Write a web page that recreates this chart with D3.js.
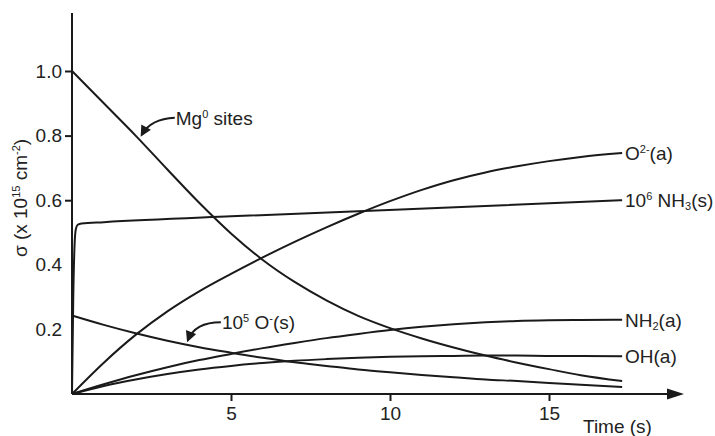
<!DOCTYPE html>
<html>
<head>
<meta charset="utf-8">
<script src="https://cdn.jsdelivr.net/npm/d3@7"></script>
<style>
body { margin: 0; background: #fff; }
text { font-family: "Liberation Sans", Arial, Helvetica, sans-serif; fill: #222; }
</style>
</head>
<body>
<div id="chart"></div>
<script>
//Width and height
var w = 715;
var h = 436;

//Time points (s) and values
var times = [0, 1, 2, 3, 4, 5, 6, 7, 8, 9, 10, 11, 12, 13, 14, 15, 16, 17.3];
var mgSites = [1.0, 0.90, 0.80, 0.695, 0.592, 0.497, 0.415, 0.347, 0.290, 0.242, 0.204, 0.172, 0.144, 0.119, 0.097, 0.077, 0.058, 0.04];
var o2minus = [0, 0.097, 0.183, 0.256, 0.318, 0.372, 0.423, 0.471, 0.516, 0.558, 0.597, 0.632, 0.662, 0.686, 0.705, 0.721, 0.734, 0.746];
var nh2 = [0, 0.03, 0.058, 0.083, 0.105, 0.124, 0.142, 0.158, 0.173, 0.186, 0.198, 0.208, 0.216, 0.222, 0.226, 0.228, 0.229, 0.23];
var oh = [0, 0.025, 0.045, 0.062, 0.076, 0.087, 0.096, 0.103, 0.108, 0.112, 0.115, 0.117, 0.118, 0.119, 0.119, 0.118, 0.118, 0.117];
var ominus = [0.243, 0.214, 0.188, 0.165, 0.145, 0.128, 0.112, 0.098, 0.087, 0.076, 0.067, 0.059, 0.052, 0.045, 0.040, 0.034, 0.029, 0.022];

//NH3 has its own time points because of the jump at the start
var nh3Times = [0, 0.04, 0.08, 0.12, 0.18, 0.3, 1, 5, 9, 13, 17.3];
var nh3 = [0, 0.3, 0.46, 0.51, 0.524, 0.528, 0.532, 0.55, 0.566, 0.582, 0.6];

var xTicks = [5, 10, 15];
var yTicks = [0.2, 0.4, 0.6, 0.8, 1.0];
var yTicksWithMark = [0.6, 0.8, 1.0];

var fontSize = "19px";

//Scales
var x = d3.scaleLinear().domain([0, 15]).range([72, 549]);
var y = d3.scaleLinear().domain([0, 1]).range([394, 71]);

var svg = d3.select("#chart")
    .append("svg")
    .attr("width", w)
    .attr("height", h);

//arrow marker for the annotations
svg.append("defs").append("marker")
    .attr("id", "arrow")
    .attr("viewBox", "0 0 10 10")
    .attr("refX", 8)
    .attr("refY", 5)
    .attr("markerWidth", 6.5)
    .attr("markerHeight", 5.5)
    .attr("markerUnits", "strokeWidth")
    .attr("orient", "auto")
    .append("path")
    .attr("d", "M0,0 L10,5 L0,10 Z")
    .attr("fill", "#1a1a1a");

//Axes
var xAxis = d3.axisBottom(x).tickValues(xTicks).tickSize(7).tickPadding(6).tickFormat(d3.format("d"));
var yAxis = d3.axisLeft(y).tickValues(yTicks).tickSize(7).tickPadding(3).tickFormat(d3.format(".1f"));

var gx = svg.append("g").attr("transform", "translate(0," + y(0) + ")").call(xAxis);
var gy = svg.append("g").attr("transform", "translate(" + x(0) + ",0)").call(yAxis);

gx.select(".domain").remove();
gy.select(".domain").remove();
gx.selectAll(".tick line").attr("stroke", "#1a1a1a").attr("stroke-width", 2);
gy.selectAll(".tick line")
    .attr("stroke", "#1a1a1a").attr("stroke-width", 2)
    .attr("display", function(d) { return yTicksWithMark.indexOf(d) >= 0 ? null : "none"; });
svg.selectAll(".tick text")
    .style("font-size", fontSize)
    .style("font-family", "'Liberation Sans', Arial, sans-serif")
    .attr("fill", "#222");

//axis lines
svg.append("line")
    .attr("x1", x(0)).attr("y1", 13)
    .attr("x2", x(0)).attr("y2", y(0))
    .attr("stroke", "#1a1a1a").attr("stroke-width", 2);
svg.append("line")
    .attr("x1", x(0)).attr("y1", y(0))
    .attr("x2", 672).attr("y2", y(0))
    .attr("stroke", "#1a1a1a").attr("stroke-width", 2);
svg.append("path")
    .attr("d", "M667," + (y(0) - 5.5) + " L684," + y(0) + " L667," + (y(0) + 5.5) + " Z")
    .attr("fill", "#1a1a1a");

//Curves
var line = d3.line()
    .x(function(d) { return x(d[0]); })
    .y(function(d) { return y(d[1]); })
    .curve(d3.curveMonotoneX);

function zipT(ts, vals) {
    return ts.map(function(t, i) { return [t, vals[i]]; });
}

var series = [
    zipT(times, mgSites),
    zipT(times, o2minus),
    zipT(times, nh2),
    zipT(times, oh),
    zipT(times, ominus),
    zipT(nh3Times, nh3)
];

svg.selectAll(".curve")
    .data(series)
    .enter()
    .append("path")
    .attr("class", "curve")
    .attr("d", line)
    .attr("fill", "none")
    .attr("stroke", "#1a1a1a")
    .attr("stroke-width", 2);

//helper for text with sub/superscripts: parts = [[text, "n"|"sup"|"sub"], ...]
function richText(g, parts) {
    var t = g.append("text").style("font-size", fontSize);
    parts.forEach(function(p) {
        var span = t.append("tspan").text(p[0]);
        if (p[1] === "sup") span.attr("baseline-shift", "60%").style("font-size", "11px");
        if (p[1] === "sub") span.attr("baseline-shift", "-25%").style("font-size", "11px");
    });
    return t;
}

//end-of-line labels
var endLabels = [
    {v: o2minus[o2minus.length - 1], parts: [["O", "n"], ["2-", "sup"], ["(a)", "n"]]},
    {v: nh3[nh3.length - 1], parts: [["10", "n"], ["6", "sup"], [" NH", "n"], ["3", "sub"], ["(s)", "n"]]},
    {v: nh2[nh2.length - 1], parts: [["NH", "n"], ["2", "sub"], ["(a)", "n"]]},
    {v: oh[oh.length - 1], parts: [["OH", "n"], ["(a)", "n"]]}
];
endLabels.forEach(function(d) {
    var g = svg.append("g").attr("transform", "translate(625," + (y(d.v) + 7) + ")");
    richText(g, d.parts);
});

//annotations with curved arrows
var mgTipT = 2.1;
var mgTip = [x(mgTipT), y(0.79)];
svg.append("path")
    .attr("d", "M" + (mgTip[0] + 36) + "," + (mgTip[1] - 21) +
        " Q" + (mgTip[0] + 12) + "," + (mgTip[1] - 20) + " " + (mgTip[0] + 3) + "," + (mgTip[1] - 4))
    .attr("fill", "none").attr("stroke", "#1a1a1a").attr("stroke-width", 2)
    .attr("marker-end", "url(#arrow)");
var gMg = svg.append("g").attr("transform", "translate(" + (mgTip[0] + 37) + "," + (mgTip[1] - 14) + ")");
richText(gMg, [["Mg", "n"], ["0", "sup"], [" sites", "n"]]);

var oTipT = 3.55;
var oTip = [x(oTipT), y(0.154)];
svg.append("path")
    .attr("d", "M" + (oTip[0] + 36) + "," + (oTip[1] - 22) +
        " Q" + (oTip[0] + 10) + "," + (oTip[1] - 22) + " " + (oTip[0] + 3) + "," + (oTip[1] - 4))
    .attr("fill", "none").attr("stroke", "#1a1a1a").attr("stroke-width", 2)
    .attr("marker-end", "url(#arrow)");
var gO = svg.append("g").attr("transform", "translate(" + (oTip[0] + 37) + "," + (oTip[1] - 15) + ")");
richText(gO, [["10", "n"], ["5", "sup"], [" O", "n"], ["-", "sup"], ["(s)", "n"]]);

//axis titles
svg.append("text")
    .attr("x", 583).attr("y", 433)
    .style("font-size", fontSize)
    .text("Time (s)");

var gYl = svg.append("g").attr("transform", "translate(27,198) rotate(-90)");
richText(gYl, [["σ (x 10", "n"], ["15", "sup"], [" cm", "n"], ["-2", "sup"], [")", "n"]])
    .attr("text-anchor", "middle");
</script>
</body>
</html>
